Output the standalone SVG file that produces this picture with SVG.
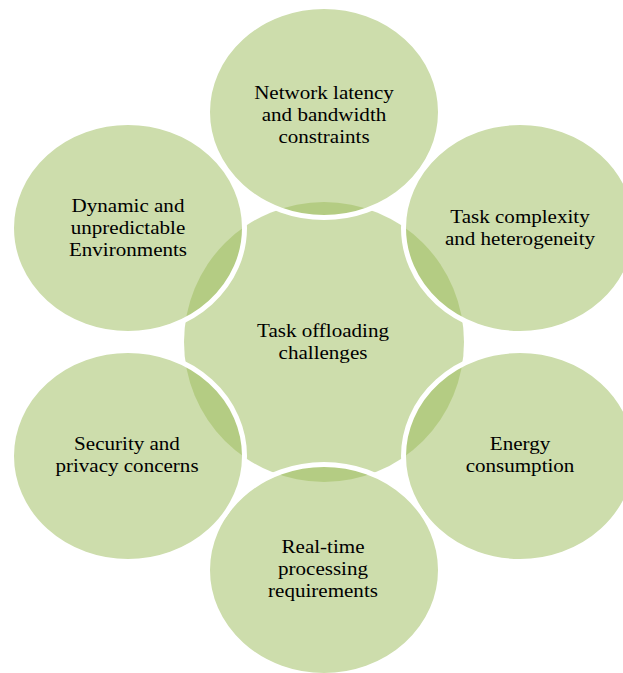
<svg xmlns="http://www.w3.org/2000/svg" width="623" height="673" viewBox="0 0 623 673">
<style>
.c{fill:#9BBB59;fill-opacity:0.5;}
.s{fill:#9BBB59;fill-opacity:0.5;stroke:#FFFFFF;stroke-width:5;}
.t{font-family:"Liberation Serif","Times New Roman",serif;font-size:19.5px;fill:#000;text-anchor:middle;}
</style>
<rect width="623" height="673" fill="#FFFFFF"/>
<g id="center">
<circle class="c" cx="324" cy="342" r="140"/>
<text class="t" transform="translate(323,0) scale(1.08,1)"><tspan x="0" y="337">Task offloading</tspan><tspan x="0" y="359">challenges</tspan></text>
</g>
<g id="connectors"></g>
<g id="node-top">
<ellipse class="s" cx="324" cy="112" rx="116.5" ry="105.5"/>
<text class="t" transform="translate(324,0) scale(1.08,1)"><tspan x="0" y="99">Network latency</tspan><tspan x="0" y="121">and bandwidth</tspan><tspan x="0" y="143">constraints</tspan></text>
</g>
<g id="node-upper-right">
<ellipse class="s" cx="520" cy="228" rx="116.5" ry="105.5"/>
<text class="t" transform="translate(520,0) scale(1.08,1)"><tspan x="0" y="223">Task complexity</tspan><tspan x="0" y="245">and heterogeneity</tspan></text>
</g>
<g id="node-lower-right">
<ellipse class="s" cx="520" cy="456" rx="116.5" ry="105.5"/>
<text class="t" transform="translate(520,0) scale(1.08,1)"><tspan x="0" y="450">Energy</tspan><tspan x="0" y="472">consumption</tspan></text>
</g>
<g id="node-bottom">
<ellipse class="s" cx="324" cy="570" rx="116.5" ry="105.5"/>
<text class="t" transform="translate(323,0) scale(1.08,1)"><tspan x="0" y="553">Real-time</tspan><tspan x="0" y="575">processing</tspan><tspan x="0" y="597">requirements</tspan></text>
</g>
<g id="node-lower-left">
<ellipse class="s" cx="128" cy="456" rx="116.5" ry="105.5"/>
<text class="t" transform="translate(127,0) scale(1.08,1)"><tspan x="0" y="450">Security and</tspan><tspan x="0" y="472">privacy concerns</tspan></text>
</g>
<g id="node-upper-left">
<ellipse class="s" cx="128" cy="228" rx="116.5" ry="105.5"/>
<text class="t" transform="translate(128,0) scale(1.08,1)"><tspan x="0" y="212">Dynamic and</tspan><tspan x="0" y="234">unpredictable</tspan><tspan x="0" y="256">Environments</tspan></text>
</g>
</svg>
